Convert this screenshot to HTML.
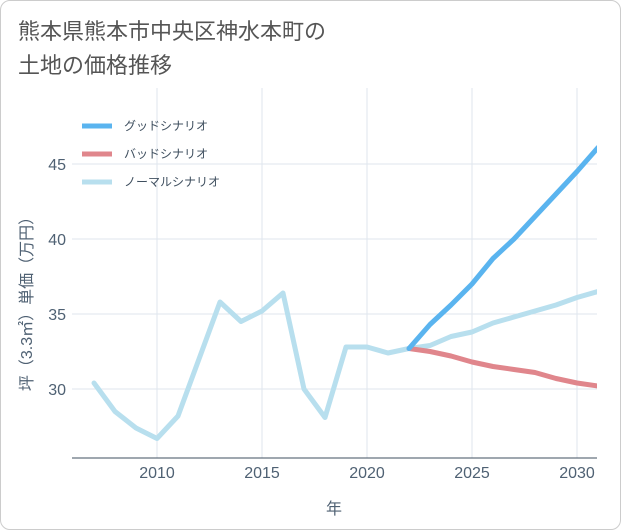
<!DOCTYPE html>
<html><head><meta charset="utf-8"><style>
body{margin:0;background:#fff;font-family:"Liberation Sans","Noto Sans CJK JP",sans-serif;}
#wrap{position:relative;width:619px;height:528px;border:1px solid #ccc;border-radius:10px;overflow:hidden;background:#fff}
#title{position:absolute;left:17px;top:14px;font-size:22px;line-height:34px;color:#555;}
</style></head><body>
<div id="wrap">
<div id="title">熊本県熊本市中央区神水本町の<br>土地の価格推移</div>
<svg id="chart" width="621" height="530" style="position:absolute;left:-1px;top:-1px">
<defs><clipPath id="plotclip"><rect x="72" y="88" width="525" height="370"/></clipPath></defs>
</svg>
</div>
<script>
const years=[2007,2008,2009,2010,2011,2012,2013,2014,2015,2016,2017,2018,2019,2020,2021,2022,2023,2024,2025,2026,2027,2028,2029,2030,2031];
const normalValues=[30.4,28.5,27.4,26.7,28.2,32.0,35.8,34.5,35.2,36.4,30.0,28.1,32.8,32.8,32.4,32.7,32.9,33.5,33.8,34.4,34.8,35.2,35.6,36.1,36.5];
const futureYears=[2022,2023,2024,2025,2026,2027,2028,2029,2030,2031];
const goodValues=[32.7,34.3,35.6,37.0,38.7,40.0,41.5,43.0,44.5,46.1];
const badValues=[32.7,32.5,32.2,31.8,31.5,31.3,31.1,30.7,30.4,30.2];
const xTicks=[2010,2015,2020,2025,2030];
const yTicks=[30,35,40,45];
const NS="http://www.w3.org/2000/svg";
const svg=document.getElementById('chart');
const L=72,R=597,T=88,B=458;
const TXT='#4f6173';
const x=v=>157+(v-2010)*21;
const y=v=>389-(v-30)*15;
function mk(t,a){const e=document.createElementNS(NS,t);for(const k in a)e.setAttribute(k,a[k]);svg.appendChild(e);return e;}
xTicks.forEach(t=>{
 const g=mk('line',{x1:x(t),x2:x(t),y1:T,y2:B,stroke:'#dfe6ee'});
 
 
 const l=mk('text',{x:x(t),y:478,'text-anchor':'middle','font-size':16,fill:TXT});l.textContent=t;
 
 
});
yTicks.forEach(t=>{
 const g=mk('line',{x1:L,x2:R,y1:y(t),y2:y(t),stroke:'#dfe6ee'});
 
 
 const l=mk('text',{x:66,y:y(t)+6,'text-anchor':'end','font-size':16,fill:TXT});l.textContent=t;
 
 
});
const ax=mk('line',{x1:L,x2:R,y1:B,y2:B,stroke:'#3f4f5f'});


const xt=mk('text',{x:334,y:514,'text-anchor':'middle','font-size':16,fill:TXT});xt.textContent='年';


const yt=mk('text',{x:0,y:0,'text-anchor':'middle','font-size':16,fill:TXT,transform:'translate(32,300) rotate(-90)'});yt.textContent='坪（3.3㎡）単価（万円）';


function line(xs,vs,color,name){
 const p=mk('polyline',{points:xs.map((v,i)=>x(v)+','+y(vs[i])).join(' '),fill:'none',stroke:color,'stroke-width':5,'stroke-linejoin':'round','stroke-linecap':'round','clip-path':'url(#plotclip)'});
 
 
}
line(years,normalValues,'#b8dfee','normal-scenario-line');
line(futureYears,badValues,'#e0868c','bad-scenario-line');
line(futureYears,goodValues,'#5ab4ef','good-scenario-line');
[['グッドシナリオ','#5ab4ef',126],['バッドシナリオ','#e0868c',154],['ノーマルシナリオ','#b8dfee',182]].forEach(([t,c,yy])=>{
 const s=mk('line',{x1:82,x2:112,y1:yy,y2:yy,stroke:c,'stroke-width':5});
 
 
 const l=mk('text',{x:124,y:yy+4,'font-size':12,fill:'#3f4f5f'});l.textContent=t;
 
 
});
</script>
</body></html>
